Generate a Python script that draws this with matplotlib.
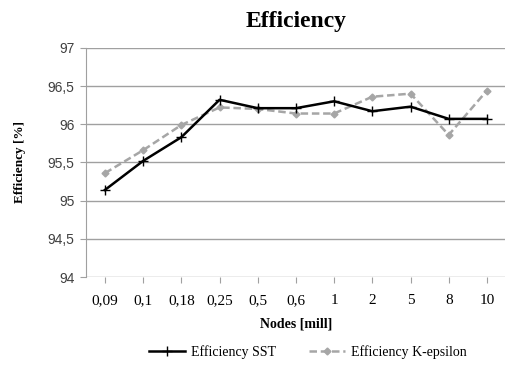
import matplotlib
matplotlib.use("Agg")
import matplotlib.pyplot as plt
from matplotlib.lines import Line2D

# data
nodes = ["0,09", "0,1", "0,18", "0,25", "0,5", "0,6", "1", "2", "5", "8", "10"]
eff_sst = [95.14, 95.52, 95.83, 96.32, 96.21, 96.21, 96.30, 96.17, 96.23, 96.07, 96.07]
eff_keps = [95.36, 95.66, 95.99, 96.22, 96.20, 96.14, 96.14, 96.36, 96.40, 95.86, 96.44]
y_ticks = [94, 94.5, 95, 95.5, 96, 96.5, 97]
y_tick_labels = ["94", "94,5", "95", "95,5", "96", "96,5", "97"]

SERIF = "Liberation Serif"
SANS = "Liberation Sans"
GRID = "#a0a0a0"

fig = plt.figure(figsize=(5.05, 3.65), dpi=100)
ax = fig.add_axes([0.170, 0.241, 0.832, 0.628])

x = list(range(len(nodes)))
ax.plot(x, eff_sst, color="black", lw=1.8, marker="+", ms=7, mew=1.0,
        label="Efficiency SST", zorder=3)
ax.plot(x, eff_keps, color="#a6a6a6", lw=1.8, ls=(0, (3, 1.5)), marker="D", ms=3.5,
        mec="#a6a6a6", mfc="#a6a6a6", label="Efficiency K-epsilon", zorder=2)

ax.set_xlim(-0.5, len(nodes) - 0.5)
ax.set_ylim(94, 97)
ax.set_yticks(y_ticks)
ax.set_yticklabels(y_tick_labels, fontfamily=SANS, fontsize=10, color="#404040")
ax.set_xticks(x)
ax.set_xticklabels(nodes, fontfamily=SERIF, fontsize=11)

ax.grid(axis="y", color=GRID, lw=1.0)
ax.set_axisbelow(True)
for side in ["top", "right", "bottom"]:
    ax.spines[side].set_visible(False)
ax.spines["left"].set_color(GRID)
ax.tick_params(axis="y", length=4, color=GRID, pad=4)
ax.tick_params(axis="x", length=4, color=GRID, pad=8)

ax.set_title("Efficiency", fontfamily=SERIF, fontweight="bold", fontsize=17, pad=15)
ax.set_xlabel("Nodes [mill]", fontfamily=SERIF, fontweight="bold", fontsize=10, labelpad=8)
ax.set_ylabel("Efficiency [%]", fontfamily=SERIF, fontweight="bold", fontsize=9.5, labelpad=16)

handles = [
    Line2D([], [], color="black", lw=1.8, marker="+", ms=7, mew=1.0),
    Line2D([], [], color="#a6a6a6", lw=1.8, ls=(0, (3, 1.5)), marker="D", ms=3.5),
]
fig.legend(handles, ["Efficiency SST", "Efficiency K-epsilon"], loc="center",
           bbox_to_anchor=(0.61, 0.036), ncol=2, frameon=False,
           prop={"family": SERIF, "size": 10}, handlelength=2.6, columnspacing=2.4,
           handletextpad=0.4)

fig.savefig("out.png", dpi=100)
